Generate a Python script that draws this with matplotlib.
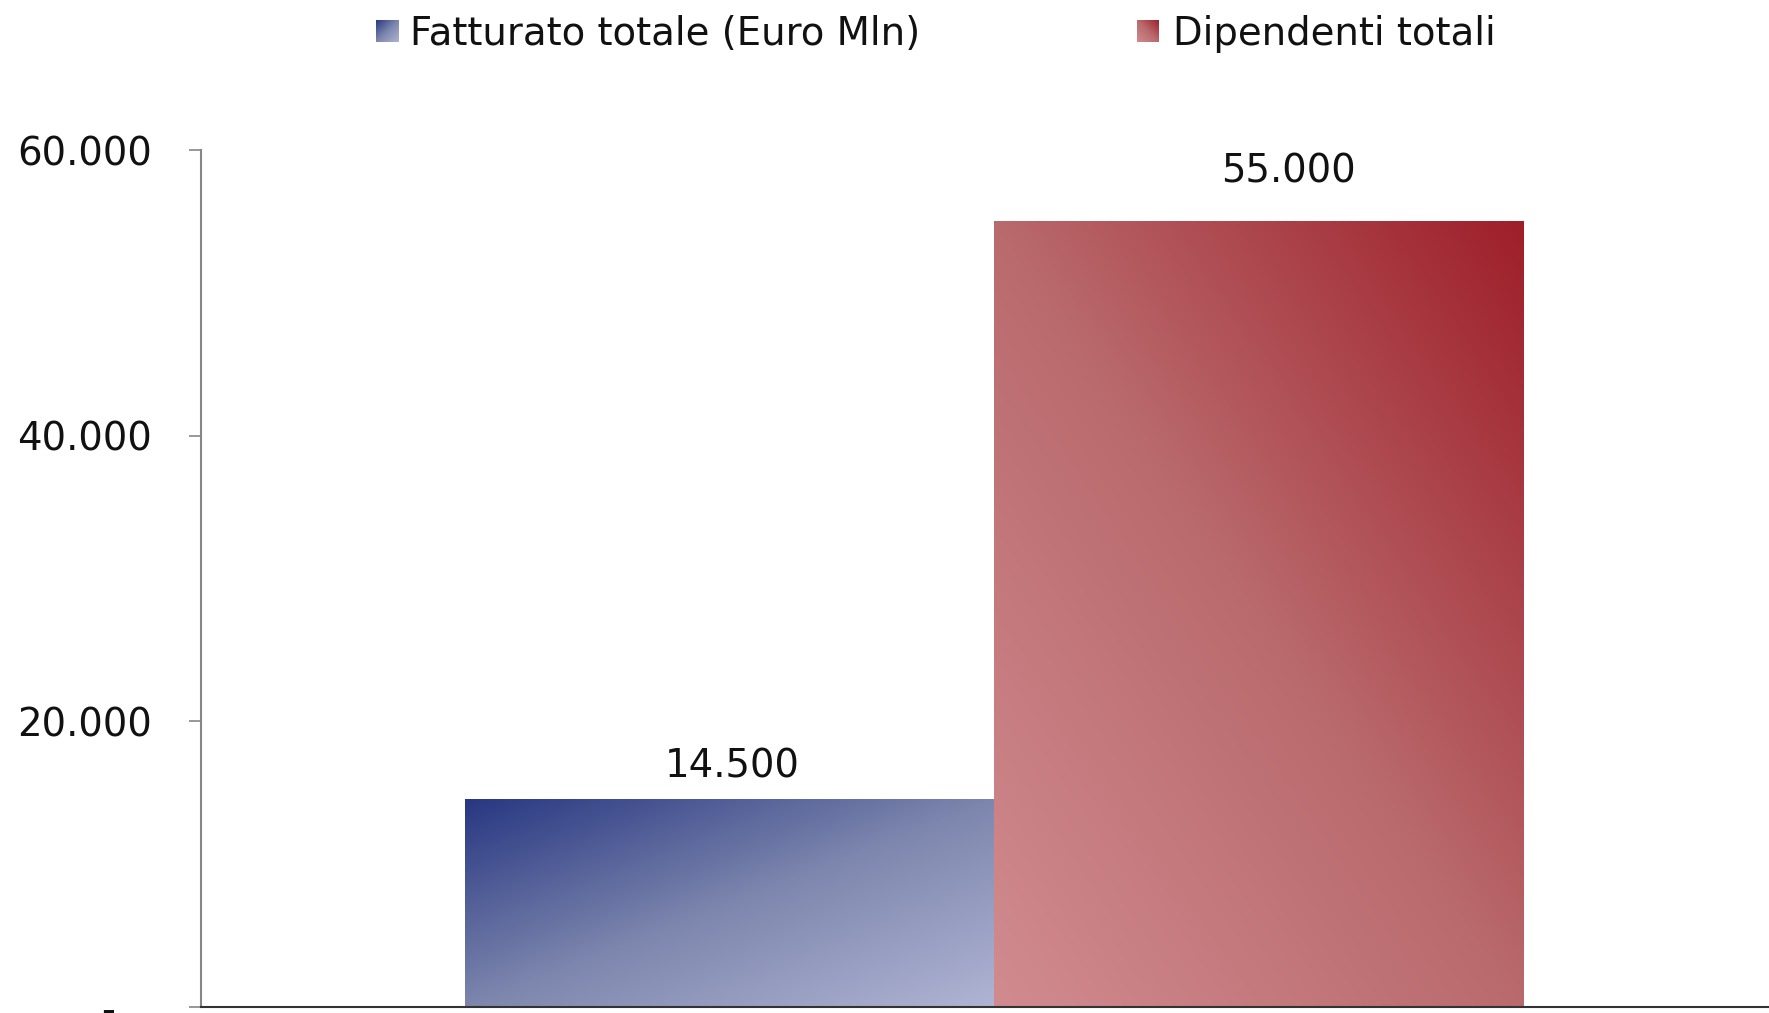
import numpy as np
import matplotlib
matplotlib.use("Agg")
import matplotlib.pyplot as plt
from matplotlib.colors import LinearSegmentedColormap

# ---- data ----
series_names = ["Fatturato totale (Euro Mln)", "Dipendenti totali"]
values = [14500, 55000]
yticks = [0, 20000, 40000, 60000]
ytick_labels = ["-   ", "20.000", "40.000", "60.000"]
value_labels = ["14.500", "55.000"]

# ---- style ----
W, H, DPI = 1769, 1013, 100
FS = 27.8
plt.rcParams['font.family'] = ['DejaVu Sans']

blue_cmap = LinearSegmentedColormap.from_list(
    "b", ["#283782", "#7d86ad", "#b0b4d4"])
red_cmap = LinearSegmentedColormap.from_list(
    "r", ["#d18b8f", "#b96a6d", "#9e1f2a"])
cmaps = [blue_cmap, red_cmap]


def grad_array(kind, n=256):
    u = np.linspace(0, 1, n)[None, :]          # left -> right
    v = np.linspace(1, 0, n)[:, None]          # top row = 1
    if kind == 0:   # dark top-left, light bottom-right
        t = (u + (1 - v)) / 2
    else:           # dark top-right, light bottom-left
        t = (u + v) / 2
    return t


fig = plt.figure(figsize=(W / DPI, H / DPI), dpi=DPI)
ax_left = 201 / W
ax_bottom = (H - 1007) / H
ax_top = 1 - 150 / H
ax = fig.add_axes([ax_left, ax_bottom, 1 - ax_left, ax_top - ax_bottom])

width = 0.35
xs = [-width / 2, width / 2]
bars = ax.bar(xs, values, width=width, color="none", edgecolor="none", zorder=2)
for i, b in enumerate(bars):
    x0, y0 = b.get_x(), b.get_y()
    bw, bh = b.get_width(), b.get_height()
    ax.imshow(grad_array(i), cmap=cmaps[i], vmin=0, vmax=1,
              extent=(x0, x0 + bw, y0, y0 + bh), aspect="auto",
              interpolation="bilinear", zorder=2)

label_offsets = [(2, 15.8), (21.5, 28)]
for b, lab, off in zip(bars, value_labels, label_offsets):
    ax.annotate(lab, (b.get_x() + b.get_width() / 2, b.get_height()),
                xytext=off, textcoords="offset points",
                ha="center", va="baseline", fontsize=FS, color="#111111")

ax.set_xlim(-0.5242, 0.5123)
ax.set_ylim(0, 60000)
ax.set_yticks(yticks)
ax.set_yticklabels(ytick_labels)
ax.set_xticks([])
ax.tick_params(axis="y", direction="out", length=9, width=1.2,
               color="#868686", pad=26, labelsize=FS, labelcolor="#111111")
for s in ["top", "right"]:
    ax.spines[s].set_visible(False)
ax.spines["left"].set_color("#868686")
ax.spines["left"].set_linewidth(1.5)
ax.spines["bottom"].set_color("#333333")
ax.spines["bottom"].set_linewidth(1.5)
ax.spines["bottom"].set_zorder(3)

# ---- legend (gradient squares + text) ----
leg_sq_x = [376, 1137]
leg_txt_x = [410, 1173]
sq = 22
yc = 31
for i, name in enumerate(series_names):
    sax = fig.add_axes([leg_sq_x[i] / W, 1 - (yc + sq / 2) / H, sq / W, sq / H])
    sax.imshow(grad_array(i), cmap=cmaps[i], vmin=0, vmax=1, aspect="auto",
               interpolation="bilinear")
    sax.axis("off")
    fig.text(leg_txt_x[i] / W, 1 - (yc + 3) / H, name, fontsize=FS,
             va="center", ha="left", color="#111111")

fig.savefig("out.png", dpi=DPI)
